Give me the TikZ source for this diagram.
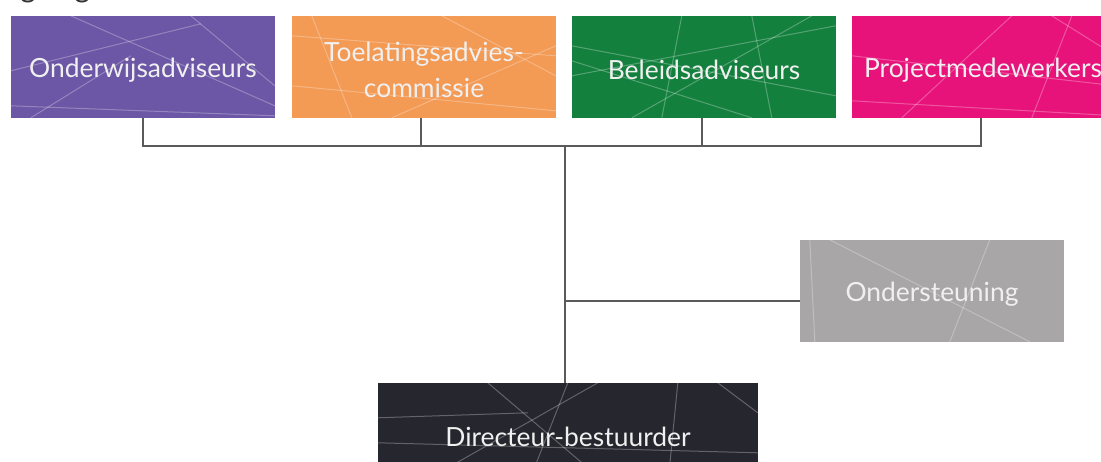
\documentclass[tikz,border=0pt]{standalone}
\usepackage{fontspec}
\setmainfont{Lato}
\usepackage{xcolor}
\usetikzlibrary{calc}

\definecolor{purplebox}{HTML}{6B57A5}
\definecolor{orangebox}{HTML}{F39A55}
\definecolor{greenbox}{HTML}{14803E}
\definecolor{pinkbox}{HTML}{E8137A}
\definecolor{greybox}{HTML}{A8A6A7}
\definecolor{darkbox}{HTML}{26262E}
\definecolor{linkgrey}{HTML}{5A5A5A}

\tikzset{
  unitbox/.style={minimum width=264bp, minimum height=102bp, inner sep=0pt},
  unittext/.style={inner sep=0pt, yshift=-3bp, text=white!94!black,
    font=\fontsize{26.5}{36}\selectfont, align=center},
  link/.style={linkgrey, line width=2bp},
  deco/.style={white, opacity=0.28, line width=1bp}
}

% lines in a box, local pixels from its top left corner
\newcommand{\boxlines}[2]{%
  \begin{scope}
    \clip (#1.north west) rectangle (#1.south east);
    \foreach \xa/\ya/\xb/\yb in {#2}
      \draw[deco] ($(#1.north west)+(\xa,\ya)$) -- ($(#1.north west)+(\xb,\yb)$);
  \end{scope}}

\begin{document}
\begin{tikzpicture}[x=1bp,y=-1bp]
\useasboundingbox (0,0) rectangle (1101,462);

% title, only its lower edge falls in the page
\node[anchor=base west, inner sep=0pt, font=\fontsize{30}{36}\selectfont, text=black!80] (title) at (-14,-2) {Organigram};

\node[unitbox, fill=purplebox] (onderwijs) at (143,67) {};
\node[unitbox, fill=orangebox] (toelating) at (424,67) {};
\node[unitbox, fill=greenbox] (beleid) at (704,67) {};
\node[unitbox, fill=pinkbox] (project) at (984,67) {};
\node[unitbox, fill=greybox] (ondersteuning) at (932,291) {};
\node[unitbox, minimum width=380bp, fill=darkbox] (directeur) at (568,434) {};

\boxlines{onderwijs}{180/0/264/70, 0/55/190/8, 20/102/120/40, 60/0/264/90, 0/90/264/100}
\boxlines{toelating}{0/20/264/40, 20/0/60/102, 0/70/264/95, 150/0/264/60, 100/102/264/30}
\boxlines{beleid}{110/0/90/102, 0/30/264/80, 180/0/200/102, 0/45/180/102, 60/102/240/0, 0/60/264/10}
\boxlines{project}{0/40/264/70, 160/0/50/102, 200/0/264/40, 0/85/264/100, 220/0/180/102}
\boxlines{ondersteuning}{10/0/15/102, 30/0/230/102, 190/0/150/102}
\boxlines{directeur}{0/35/150/30, 110/0/230/102, 190/0/150/102, 220/0/40/102, 340/0/380/30, 0/60/380/70, 300/0/290/102}

\node[unittext] (onderwijs-t) at (onderwijs) {Onderwijsadviseurs};
\node[unittext] (toelating-t) at (toelating) {Toelatingsadvies-\\commissie};
\node[unittext] (beleid-t) at (beleid) {Beleidsadviseurs};
\node[unittext, xshift=-1bp] (project-t) at (project) {Projectmedewerkers};
\node[unittext] (ondersteuning-t) at (ondersteuning) {Ondersteuning};
\node[unittext] (directeur-t) at (directeur) {Directeur-bestuurder};

\coordinate (top) at (565,146);
\coordinate (branch) at (565,301);

\draw[link] (onderwijs.south -| 143,0) |- (top);
\draw[link] (project.south -| 981,0) |- (top);
\draw[link] (toelating.south -| 421,0) -- (421,146);
\draw[link] (beleid.south -| 702,0) -- (702,146);
\draw[link] (top) -- (directeur.north -| top);
\draw[link] (branch) -- (branch -| ondersteuning.west);

\end{tikzpicture}
\end{document}
